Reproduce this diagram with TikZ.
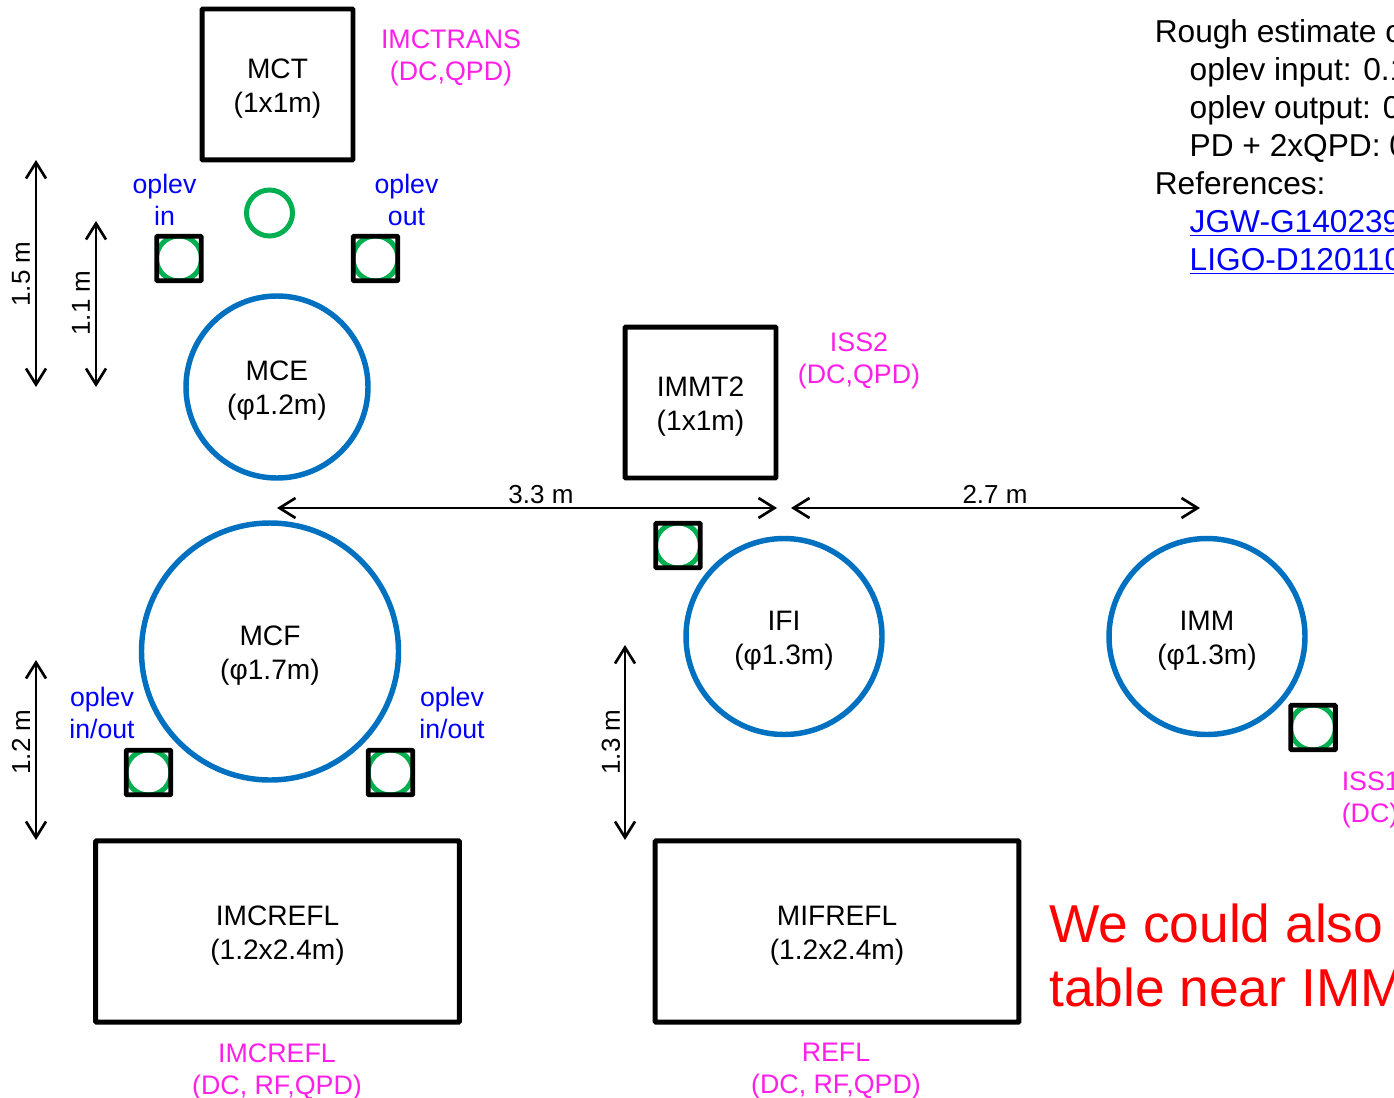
\documentclass[tikz,border=0pt]{standalone}
\usepackage{fontspec}
\setmainfont{Liberation Sans}
\usetikzlibrary{arrows.meta}
\definecolor{ringblue}{HTML}{0070C0}
\definecolor{sensgreen}{HTML}{00B050}
\definecolor{lblmag}{HTML}{FF1FE8}
\definecolor{lblblue}{HTML}{0000FF}
\newcommand{\twolines}[2]{\raisebox{-8.25pt}[0pt][0pt]{\makebox[0pt]{\parbox{140pt}{\centering #1\\#2}}}}
\tikzset{
  tablebox/.style={draw=black,line width=3.7pt,rounded corners=0.6pt,align=center,inner sep=0pt,font=\fontsize{21.1}{25.5}\selectfont},
  mirror/.style={circle,draw=ringblue,line width=4.1pt,align=center,inner sep=0pt,font=\fontsize{21.1}{25.5}\selectfont},
  sensor/.style={draw=black,line width=3.7pt,rounded corners=0.6pt,minimum size=33.4pt,inner sep=0pt,
    path picture={\draw[sensgreen,line width=3.75pt] (path picture bounding box.center) circle (16.9pt);}},
  tag/.style={text=lblmag,align=center,inner sep=0pt,font=\fontsize{20.1}{24}\selectfont},
  oplev/.style={text=lblblue,align=center,inner sep=0pt,font=\fontsize{20}{24}\selectfont},
  dimtxt/.style={inner sep=0pt,font=\fontsize{19.5}{23}\selectfont},
  dimarrow/.style={{Straight Barb[length=12pt,width=15pt,line width=2pt]}-{Straight Barb[length=12pt,width=15pt,line width=2pt]},line width=2pt},
}
\begin{document}
\begin{tikzpicture}[x=0.75pt,y=-0.75pt]
\useasboundingbox (0,0) rectangle (1394,1098);
\begin{scope}
\clip (0,0) rectangle (1394,1098);
% tables
\node[tablebox,minimum width=113.2pt,minimum height=113.2pt] (mct) at (277.5,84.5) {\twolines{MCT}{(1x1m)}};
\node[tablebox,minimum width=113.2pt,minimum height=113.2pt] (immt) at (700.5,402.5) {\twolines{IMMT2}{(1x1m)}};
\node[tablebox,minimum width=272.8pt,minimum height=136pt] (imcrefl) at (277.5,931.5) {\twolines{IMCREFL}{(1.2x2.4m)}};
\node[tablebox,minimum width=272.8pt,minimum height=136pt] (mifrefl) at (837,931.5) {\twolines{MIFREFL}{(1.2x2.4m)}};
% mirrors
\node[mirror,minimum size=136.5pt] (mce) at (277,387) {\twolines{MCE}{(φ1.2m)}};
\node[mirror,minimum size=192.75pt] (mcf) at (270,651.5) {\twolines{MCF}{(φ1.7m)}};
\node[mirror,minimum size=147pt] (ifi) at (784,636.5) {\twolines{IFI}{(φ1.3m)}};
\node[mirror,minimum size=147pt] (imm) at (1207,636.5) {\twolines{IMM}{(φ1.3m)}};
\node[circle,draw=sensgreen,line width=3.75pt,minimum size=34.5pt,inner sep=0pt] (ring) at (269.5,213) {};
% sensors
\node[sensor] (s1) at (179,258.5) {};
\node[sensor] (s2) at (375.5,258.5) {};
\node[sensor] (s3) at (678,545.5) {};
\node[sensor] (s4) at (148.5,772.5) {};
\node[sensor] (s5) at (390.5,772.5) {};
\node[sensor] (s6) at (1313,727.5) {};
% dimension arrows
\coordinate (a1) at (36,160); \coordinate (a2) at (36,387);
\coordinate (b1) at (96,221); \coordinate (b2) at (96,387);
\coordinate (c1) at (36,660); \coordinate (c2) at (36,840);
\coordinate (d1) at (625,645); \coordinate (d2) at (625,840);
\coordinate (e1) at (277,508); \coordinate (e2) at (777,508);
\coordinate (f1) at (791,508); \coordinate (f2) at (1200,508);
\draw[dimarrow] (a1) -- (a2);
\draw[dimarrow] (b1) -- (b2);
\draw[dimarrow] (c1) -- (c2);
\draw[dimarrow] (d1) -- (d2);
\draw[dimarrow] (e1) -- (e2);
\draw[dimarrow] (f1) -- (f2);
\node[dimtxt,rotate=90] (l1) at (21,274) {1.5 m};
\node[dimtxt,rotate=90] (l2) at (81,303) {1.1 m};
\node[dimtxt,rotate=90] (l3) at (21,742) {1.2 m};
\node[dimtxt,rotate=90] (l4) at (611,742) {1.3 m};
\node[dimtxt] (l5) at (541,494.5) {3.3 m};
\node[dimtxt] (l6) at (995,494.5) {2.7 m};
% magenta labels
\node[tag] (t1) at (451,58) {IMCTRANS\\(DC,QPD)};
\node[tag] (t2) at (859,361) {ISS2\\(DC,QPD)};
\node[tag] (t3) at (277,1072) {IMCREFL\\(DC, RF,QPD)};
\node[tag] (t4) at (836,1071) {REFL\\(DC, RF,QPD)};
\node[tag,align=left,anchor=west] (t5) at (1341.5,800) {ISS1\\(DC)};
% oplev labels
\node[oplev] (o1) at (164.5,199.5) {oplev\\in};
\node[oplev] (o2) at (406.5,199.5) {oplev\\out};
\node[oplev] (o3) at (102,713) {oplev\\in/out};
\node[oplev] (o4) at (452,713) {oplev\\in/out};
% notes
\node[anchor=west,inner sep=0pt,align=left,font=\fontsize{23.75}{28.5}\selectfont] (n1) at (1154.5,147)
 {Rough estimate o\\
  \hspace*{26.2pt}oplev input: 0.1\\
  \hspace*{26.2pt}oplev output: 0\\
  \hspace*{26.2pt}PD + 2xQPD: 0\\
  References:\\
  \hspace*{26.2pt}\textcolor{lblblue}{\underline{JGW-G1402390}}\\
  \hspace*{26.2pt}\textcolor{lblblue}{\underline{LIGO-D1201100}}};
\node[anchor=west,inner sep=0pt,align=left,text=red,font=\fontsize{40}{48}\selectfont] (n2) at (1049,955)
 {We could also\\table near IMM};
\end{scope}
\end{tikzpicture}
\end{document}
